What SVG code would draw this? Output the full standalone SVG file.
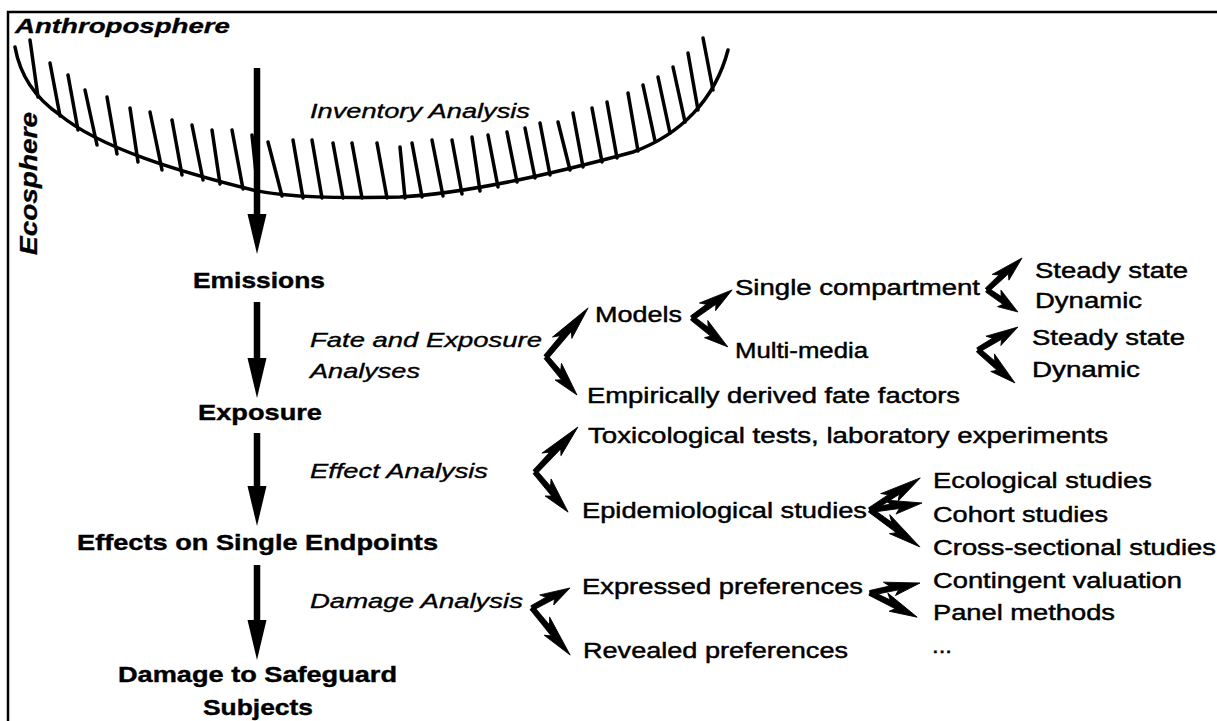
<svg xmlns="http://www.w3.org/2000/svg" xmlns:xlink="http://www.w3.org/1999/xlink" width="1217" height="721" viewBox="0 0 1217 721">
  <style>
    text { fill: #000; font-family: "Liberation Sans", Arial, sans-serif; }
    .main { font-size: 22px; font-weight: bold; stroke: #000; stroke-width: 0.4; }
    .step { font-size: 21px; font-style: italic; stroke: #000; stroke-width: 0.35; }
    .item { font-size: 22px; stroke: #000; stroke-width: 0.45; }
    .sphere { font-weight: bold; font-style: italic; stroke: #000; stroke-width: 0.3; }
    .frame { fill: none; stroke: #000; stroke-width: 2.5; }
    .boundary { fill: none; stroke: #000; stroke-width: 3.5; stroke-linecap: round; }
    .hatch line { stroke: #000; stroke-width: 3.5; stroke-linecap: round; }
    .flow { stroke: #000; stroke-width: 6.5; marker-end: url(#head); }
    .bolt { fill: #000; stroke: #000; stroke-width: 0.8; stroke-linejoin: round; }
  </style>
  <defs>
    <marker id="head" markerUnits="userSpaceOnUse" markerWidth="42" markerHeight="22" viewBox="0 -11 42 22" refX="0" refY="0" orient="auto">
      <path d="M0,-9.5 L40,0 L0,9.5 Z" fill="#000"/>
    </marker>
    <!-- lightning-style branch arm, 50 units long along +x, apex at origin -->
    <path id="bolt" d="M0,-2.5 L20,-3 L15,-8 L50,0 L24,7.5 L28,2.5 L0,2.5 Z"/>
  </defs>

  <rect width="1217" height="721" fill="#fff"/>

  <!-- frame: top and left edge -->
  <path class="frame" d="M8,721 L8,12 L1217,12"/>

  <!-- sphere boundary with hatching -->
  <g id="boundary">
    <path class="boundary" d="M15,47 C20,75 35,98 60,115 C100,148 180,172 253,190 C290,198 340,198 400,197 C470,193 560,172 633,152 C680,135 715,100 728,50"/>
    <g class="hatch">
      <line x1="38" y1="97" x2="30" y2="40"/>
      <line x1="60" y1="116" x2="50" y2="63"/>
      <line x1="78" y1="130" x2="68" y2="75"/>
      <line x1="97" y1="145" x2="85" y2="90"/>
      <line x1="117" y1="154" x2="107" y2="97"/>
      <line x1="138" y1="162" x2="130" y2="108"/>
      <line x1="162" y1="170" x2="150" y2="112"/>
      <line x1="182" y1="175" x2="172" y2="120"/>
      <line x1="203" y1="180" x2="192" y2="125"/>
      <line x1="220" y1="184" x2="212" y2="130"/>
      <line x1="243" y1="189" x2="232" y2="130"/>
      <line x1="258" y1="192" x2="252" y2="135"/>
      <line x1="282" y1="196" x2="268" y2="142"/>
      <line x1="303" y1="198" x2="293" y2="140"/>
      <line x1="322" y1="198" x2="312" y2="140"/>
      <line x1="343" y1="198" x2="333" y2="143"/>
      <line x1="362" y1="198" x2="352" y2="143"/>
      <line x1="387" y1="198" x2="377" y2="143"/>
      <line x1="405" y1="198" x2="400" y2="147"/>
      <line x1="422" y1="197" x2="412" y2="143"/>
      <line x1="443" y1="196" x2="432" y2="140"/>
      <line x1="462" y1="194" x2="452" y2="140"/>
      <line x1="480" y1="191" x2="472" y2="137"/>
      <line x1="498" y1="187" x2="488" y2="135"/>
      <line x1="517" y1="182" x2="507" y2="132"/>
      <line x1="535" y1="178" x2="525" y2="128"/>
      <line x1="550" y1="175" x2="540" y2="123"/>
      <line x1="570" y1="170" x2="558" y2="122"/>
      <line x1="583" y1="167" x2="573" y2="113"/>
      <line x1="602" y1="162" x2="592" y2="108"/>
      <line x1="617" y1="158" x2="607" y2="102"/>
      <line x1="638" y1="151" x2="628" y2="93"/>
      <line x1="655" y1="141" x2="643" y2="85"/>
      <line x1="670" y1="133" x2="658" y2="77"/>
      <line x1="685" y1="122" x2="673" y2="67"/>
      <line x1="698" y1="110" x2="688" y2="53"/>
      <line x1="713" y1="90" x2="703" y2="38"/>
    </g>
  </g>

  <g id="anthroposphere"><text class="sphere" x="15" y="33" font-size="20" textLength="215" lengthAdjust="spacingAndGlyphs">Anthroposphere</text></g>
  <g id="ecosphere"><text class="sphere" font-size="24" textLength="143" lengthAdjust="spacingAndGlyphs" transform="translate(37,255) rotate(-90)">Ecosphere</text></g>

  <!-- connectors -->
  <g id="connectors">
    <line class="flow" x1="257" y1="68" x2="257" y2="214"/>
    <line class="flow" x1="257" y1="302" x2="257" y2="358"/>
    <line class="flow" x1="257" y1="433" x2="257" y2="486"/>
    <line class="flow" x1="257" y1="565" x2="257" y2="620"/>

    <g class="bolt">
      <!-- fate and exposure -->
      <use xlink:href="#bolt" transform="translate(546,357) rotate(-49.4) scale(1.29,1)"/>
      <use xlink:href="#bolt" transform="translate(546,357) rotate(50.8) scale(0.98,1)"/>
      <!-- models -->
      <use xlink:href="#bolt" transform="translate(692,318) rotate(-35) scale(0.98,1)"/>
      <use xlink:href="#bolt" transform="translate(692,318) rotate(38.9) scale(0.92,1)"/>
      <!-- single compartment -->
      <use xlink:href="#bolt" transform="translate(987,290) rotate(-42.4) scale(0.95,1)"/>
      <use xlink:href="#bolt" transform="translate(987,290) rotate(35.4) scale(0.76,1)"/>
      <!-- multi-media -->
      <use xlink:href="#bolt" transform="translate(978,350) rotate(-29.9) scale(0.92,1)"/>
      <use xlink:href="#bolt" transform="translate(978,350) rotate(41.7) scale(0.99,1)"/>
      <!-- effect -->
      <use xlink:href="#bolt" transform="translate(535,472) rotate(-46.3) scale(1.24,1)"/>
      <use xlink:href="#bolt" transform="translate(535,472) rotate(50.5) scale(1.04,1)"/>
      <!-- epidemiological -->
      <use xlink:href="#bolt" transform="translate(870,510) rotate(-32.6) scale(1.19,1)"/>
      <use xlink:href="#bolt" transform="translate(870,510) rotate(-7.7) scale(1.05,1)"/>
      <use xlink:href="#bolt" transform="translate(870,510) rotate(36.5) scale(1.24,1)"/>
      <!-- expressed preferences -->
      <use xlink:href="#bolt" transform="translate(870,593) rotate(-11.3) scale(1.02,1)"/>
      <use xlink:href="#bolt" transform="translate(870,593) rotate(27.1) scale(1.06,1)"/>
      <!-- damage -->
      <use xlink:href="#bolt" transform="translate(532,608) rotate(-27.8) scale(0.86,1)"/>
      <use xlink:href="#bolt" transform="translate(532,608) rotate(51) scale(1.21,1)"/>
    </g>
  </g>

  <!-- main chain -->
  <g id="emissions"><text class="main" x="193" y="288" textLength="132" lengthAdjust="spacingAndGlyphs">Emissions</text></g>
  <g id="exposure"><text class="main" x="198" y="420" textLength="124" lengthAdjust="spacingAndGlyphs">Exposure</text></g>
  <g id="effects"><text class="main" x="77" y="550" textLength="361" lengthAdjust="spacingAndGlyphs">Effects on Single Endpoints</text></g>
  <g id="damage">
    <text class="main" x="118" y="682" textLength="279" lengthAdjust="spacingAndGlyphs">Damage to Safeguard</text>
    <text class="main" x="203" y="715" textLength="110" lengthAdjust="spacingAndGlyphs">Subjects</text>
  </g>

  <!-- analysis steps -->
  <g id="inventory-analysis"><text class="step" x="310" y="118" textLength="220" lengthAdjust="spacingAndGlyphs">Inventory Analysis</text></g>
  <g id="fate-analysis">
    <text class="step" x="310" y="347" textLength="232" lengthAdjust="spacingAndGlyphs">Fate and Exposure</text>
    <text class="step" x="310" y="378" textLength="110" lengthAdjust="spacingAndGlyphs">Analyses</text>
  </g>
  <g id="effect-analysis"><text class="step" x="310" y="478" textLength="178" lengthAdjust="spacingAndGlyphs">Effect Analysis</text></g>
  <g id="damage-analysis"><text class="step" x="310" y="608" textLength="213" lengthAdjust="spacingAndGlyphs">Damage Analysis</text></g>

  <!-- fate and exposure methods -->
  <g id="models"><text class="item" x="595" y="322" textLength="87" lengthAdjust="spacingAndGlyphs">Models</text></g>
  <g id="single-compartment"><text class="item" x="735" y="295" textLength="245" lengthAdjust="spacingAndGlyphs">Single compartment</text></g>
  <g id="multi-media"><text class="item" x="735" y="358" textLength="133" lengthAdjust="spacingAndGlyphs">Multi-media</text></g>
  <g id="empirical-fate"><text class="item" x="587" y="403" textLength="373" lengthAdjust="spacingAndGlyphs">Empirically derived fate factors</text></g>
  <g id="sc-steady"><text class="item" x="1035" y="278" textLength="153" lengthAdjust="spacingAndGlyphs">Steady state</text></g>
  <g id="sc-dynamic"><text class="item" x="1035" y="308" textLength="107" lengthAdjust="spacingAndGlyphs">Dynamic</text></g>
  <g id="mm-steady"><text class="item" x="1032" y="345" textLength="153" lengthAdjust="spacingAndGlyphs">Steady state</text></g>
  <g id="mm-dynamic"><text class="item" x="1032" y="377" textLength="108" lengthAdjust="spacingAndGlyphs">Dynamic</text></g>

  <!-- effect methods -->
  <g id="toxicological"><text class="item" x="588" y="443" textLength="520" lengthAdjust="spacingAndGlyphs">Toxicological tests, laboratory experiments</text></g>
  <g id="epidemiological"><text class="item" x="582" y="518" textLength="285" lengthAdjust="spacingAndGlyphs">Epidemiological studies</text></g>
  <g id="ecological"><text class="item" x="933" y="488" textLength="219" lengthAdjust="spacingAndGlyphs">Ecological studies</text></g>
  <g id="cohort"><text class="item" x="933" y="522" textLength="175" lengthAdjust="spacingAndGlyphs">Cohort studies</text></g>
  <g id="cross-sectional"><text class="item" x="933" y="555" textLength="283" lengthAdjust="spacingAndGlyphs">Cross-sectional studies</text></g>

  <!-- damage methods -->
  <g id="expressed"><text class="item" x="582" y="594" textLength="281" lengthAdjust="spacingAndGlyphs">Expressed preferences</text></g>
  <g id="revealed"><text class="item" x="583" y="658" textLength="265" lengthAdjust="spacingAndGlyphs">Revealed preferences</text></g>
  <g id="contingent"><text class="item" x="933" y="588" textLength="249" lengthAdjust="spacingAndGlyphs">Contingent valuation</text></g>
  <g id="panel"><text class="item" x="933" y="620" textLength="182" lengthAdjust="spacingAndGlyphs">Panel methods</text></g>
  <g id="more"><text class="item" x="932" y="653" textLength="20" lengthAdjust="spacingAndGlyphs">...</text></g>
</svg>
